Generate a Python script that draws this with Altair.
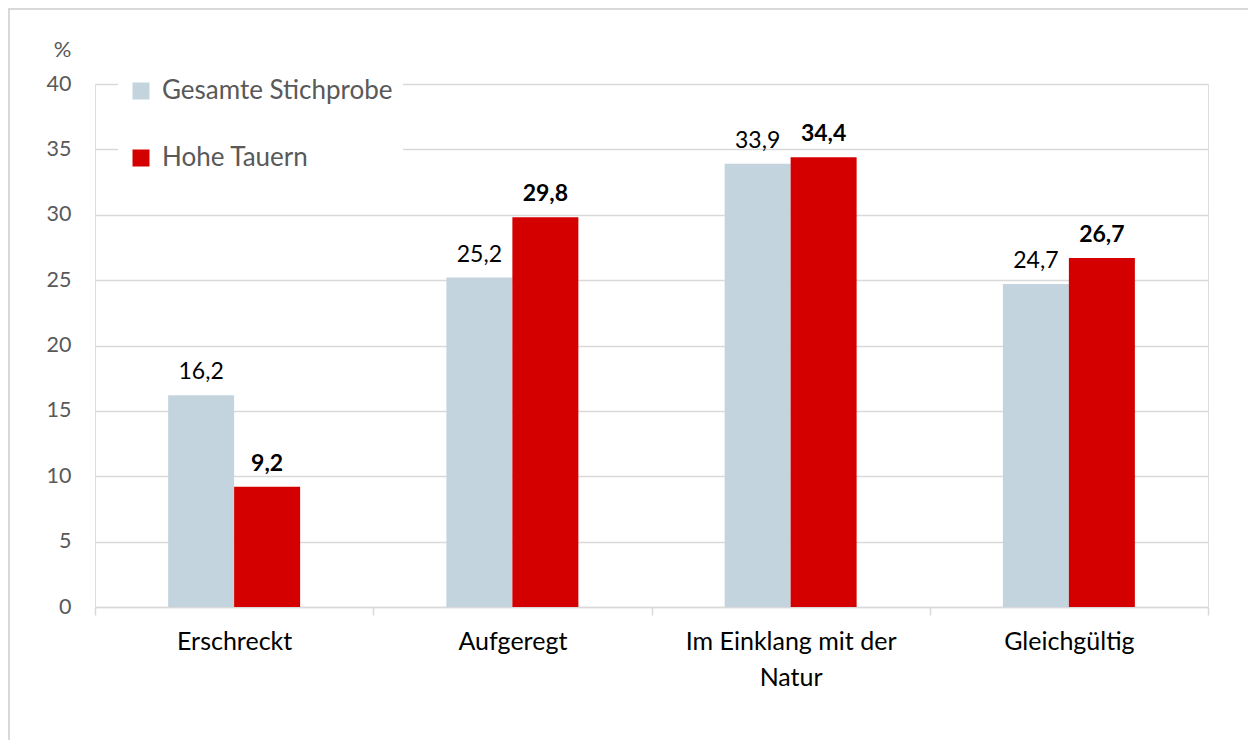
import altair as alt
import pandas as pd

categories = ["Erschreckt", "Aufgeregt", "Im Einklang mit der Natur", "Gleichgültig"]
series = ["Gesamte Stichprobe", "Hohe Tauern"]
gesamt = [16.2, 25.2, 33.9, 24.7]
hohe_tauern = [9.2, 29.8, 34.4, 26.7]
colors = ["#C4D4DF", "#D40000"]
y_ticks = [0, 5, 10, 15, 20, 25, 30, 35, 40]

rows = []
for c, g, h in zip(categories, gesamt, hohe_tauern):
    rows.append({"Kategorie": c, "Serie": series[0], "Wert": g})
    rows.append({"Kategorie": c, "Serie": series[1], "Wert": h})
df = pd.DataFrame(rows)

FONT = "Lato"
W, H = 1113, 523

x_enc = alt.X("Kategorie:N", sort=categories,
              scale=alt.Scale(paddingInner=0, paddingOuter=0),
              axis=alt.Axis(title=None, labelFontSize=25, labelColor="#000000", labelFont=FONT,
                            labelPadding=14, labelLineHeight=36, labelAngle=0, labelLimit=0,
                            domainColor="#D9D9D9", domainWidth=1.5, tickColor="#D9D9D9",
                            tickWidth=1.5, tickSize=8, tickBand="extent", grid=False,
                            labelExpr="datum.value == 'Im Einklang mit der Natur' ? ['Im Einklang mit der', 'Natur'] : datum.label"))
# spacer slots keep the pair of bars centred in each category band
offset_domain = ["_l", series[0], series[1], "_r"]
xoff = alt.XOffset("Serie:N",
                   scale=alt.Scale(domain=offset_domain, paddingInner=0, paddingOuter=0.108))
y_enc = alt.Y("Wert:Q",
              scale=alt.Scale(domain=[0, 40], nice=False),
              axis=alt.Axis(values=y_ticks, title="%", titleAngle=0, titleX=-33, titleY=-35,
                            titleAlign="center", titleBaseline="middle", titleFontSize=22,
                            titleFont=FONT, titleFontWeight="normal", titleColor="#595959",
                            labelFontSize=21.5, labelColor="#595959", labelFont=FONT,
                            labelPadding=24, ticks=False, domain=False,
                            gridColor="#D9D9D9", gridWidth=1.5))

base = alt.Chart(df)

bars = base.mark_bar(strokeWidth=0).encode(
    x=x_enc, xOffset=xoff, y=y_enc,
    color=alt.Color("Serie:N", sort=series,
                    scale=alt.Scale(domain=series, range=colors),
                    legend=alt.Legend(title=None, orient="none", legendX=23, legendY=-16,
                                      fillColor="white", padding=10, symbolType="square",
                                      symbolSize=289, symbolStrokeWidth=0,
                                      labelFontSize=26, labelFont=FONT, labelColor="#595959",
                                      labelOffset=8, rowPadding=41, labelLimit=400))
)

lbl = base.transform_calculate(
    txt="replace(format(datum.Wert, '.1f'), '.', ',')"
)
labels_g = lbl.transform_filter(alt.datum.Serie == series[0]).mark_text(
    baseline="alphabetic", dy=-16, fontSize=23, font=FONT, color="#000000"
).encode(x=alt.X("Kategorie:N", sort=categories), xOffset=xoff, y="Wert:Q", text="txt:N")
labels_h = lbl.transform_filter(alt.datum.Serie == series[1]).mark_text(
    baseline="alphabetic", dy=-16, fontSize=23, font=FONT, color="#000000", fontWeight="bold"
).encode(x=alt.X("Kategorie:N", sort=categories), xOffset=xoff, y="Wert:Q", text="txt:N")

one = pd.DataFrame({"f": [0]})
frame_left = alt.Chart(one).mark_rule(color="#D9D9D9", strokeWidth=2).encode(
    x=alt.value(-86), y=alt.value(-76), y2=alt.value(H + 200))
frame_top = alt.Chart(one).mark_rule(color="#D9D9D9", strokeWidth=2).encode(
    x=alt.value(-87), x2=alt.value(W + 200), y=alt.value(-75))

chart = alt.layer(frame_left, frame_top, bars, labels_g, labels_h).properties(
    width=W, height=H,
    autosize=alt.AutoSizeParams(type="none"),
    padding={"left": 87, "top": 76, "right": 40, "bottom": 133},
).configure_view(stroke=None).configure(font=FONT)

chart.save("out.html", embed_options={"renderer": "svg", "actions": False})
